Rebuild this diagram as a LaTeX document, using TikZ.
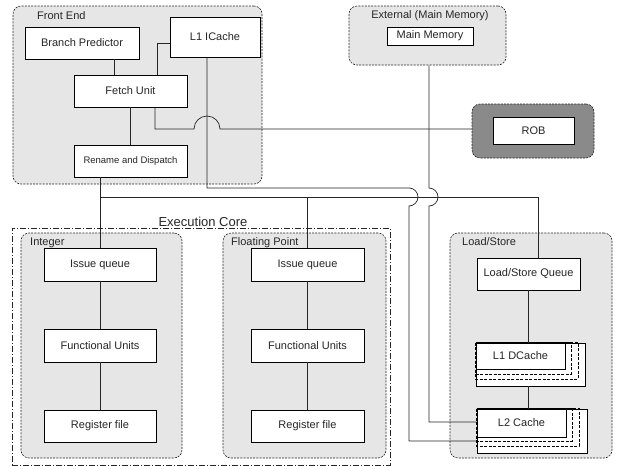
\documentclass[tikz,border=0pt]{standalone}
\usepackage{fontspec}
\setmainfont{Liberation Sans}
\definecolor{lightgrey}{RGB}{230,230,230}
\definecolor{darkgrey}{RGB}{138,138,138}
\begin{document}
\begin{tikzpicture}[x=1pt,y=1pt,
  grp/.style={draw=black!85, dash pattern=on 2pt off 1.2pt, rounded corners=8pt, fill=lightgrey, line width=0.6pt, inner sep=0pt},
  core/.style={draw=black!85, dash pattern=on 6pt off 2pt on 1pt off 2pt, line width=0.6pt, inner sep=0pt},
  box/.style={draw=black, fill=white, line width=0.7pt, inner sep=0pt, font=\fontsize{11}{13}\selectfont, text=black!85},
  wire/.style={draw=black!85, line width=0.7pt},
  lbl/.style={font=\fontsize{11}{13}\selectfont, inner sep=0pt, text=black!85},
  stackdash/.style={draw=black, line width=0.6pt, dash pattern=on 3pt off 1.5pt}]
\useasboundingbox (0,0) rectangle (619,-466);

% groups
\node[grp, minimum width=249pt, minimum height=178pt] (frontend) at (137.5,-95) {};
\node[grp, minimum width=157pt, minimum height=59pt] (external) at (427.5,-35.5) {};
\node[grp, fill=darkgrey, minimum width=122pt, minimum height=54pt] (robgrp) at (533,-131) {};
\node[core, minimum width=378pt, minimum height=237pt] (core) at (201,-346.5) {};
\node[grp, minimum width=161pt, minimum height=225pt] (intgrp) at (101.5,-345.5) {};
\node[grp, minimum width=163pt, minimum height=225pt] (fpgrp) at (304.5,-345.5) {};
\node[grp, minimum width=162pt, minimum height=225pt] (lsgrp) at (531,-345.5) {};

% group labels
\node[lbl, anchor=west] (felbl) at (37,-16) {Front End};
\node[lbl] (extlbl) at (430,-16) {External (Main Memory)};
\node[lbl, anchor=base, font=\fontsize{13}{15}\selectfont] (corelbl) at (203,-226.5) {Execution Core};
\node[lbl, anchor=west] (intlbl) at (30,-243) {Integer};
\node[lbl, anchor=west] (fplbl) at (231,-243) {Floating Point};
\node[lbl, anchor=west] (lslbl) at (462,-242) {Load/Store};

% boxes
\node[box, minimum width=114pt, minimum height=32pt] (bp) at (82,-43) {Branch Predictor};
\node[box, minimum width=90pt, minimum height=40pt] (icache) at (215,-37) {L1 ICache};
\node[box, minimum width=113pt, minimum height=32pt] (fetch) at (130.5,-91) {Fetch Unit};
\node[box, minimum width=113pt, minimum height=32pt, font=\fontsize{9.5}{11}\selectfont] (rename) at (130.5,-161) {Rename and Dispatch};
\node[box, minimum width=86pt, minimum height=18pt] (mainmem) at (430,-36) {Main Memory};
\node[box, minimum width=81pt, minimum height=27pt] (rob) at (533.5,-130.5) {ROB};

\node[box, minimum width=112pt, minimum height=33pt] (intiq) at (100,-264.5) {Issue queue};
\node[box, minimum width=112pt, minimum height=33pt] (intfu) at (100,-345.5) {Functional Units};
\node[box, minimum width=112pt, minimum height=32pt] (intrf) at (100,-426) {Register file};

\node[box, minimum width=113pt, minimum height=33pt] (fpiq) at (307.5,-264.5) {Issue queue};
\node[box, minimum width=113pt, minimum height=33pt] (fpfu) at (307.5,-345.5) {Functional Units};
\node[box, minimum width=113pt, minimum height=32pt] (fprf) at (307.5,-426) {Register file};

\node[box, minimum width=103pt, minimum height=32pt] (lsq) at (528.5,-274) {Load/Store Queue};

\node[box, minimum width=109pt, minimum height=43pt] (l1dback) at (530.5,-364.5) {};
\draw[stackdash] (l1dback.north west) rectangle (578,-379);
\draw[stackdash] (l1dback.north west) rectangle (571,-374);
\node[box, minimum width=89pt, minimum height=26pt] (l1d) at (520.5,-356) {L1 DCache};

\node[box, minimum width=110pt, minimum height=44pt] (l2back) at (532,-431) {};
\draw[stackdash] (l2back.north west) rectangle (579,-446);
\draw[stackdash] (l2back.north west) rectangle (572,-441);
\node[box, minimum width=89pt, minimum height=28pt] (l2) at (521.5,-423) {L2 Cache};

% helper coordinates
\coordinate (xbp) at (114,0);
\coordinate (xfi) at (157,-43);
\coordinate (xrob) at (155,-129);
\coordinate (hop1) at (194,-129);
\coordinate (bus) at (100,-197);
\coordinate (busfp) at (307.5,-197);
\coordinate (busr) at (538,-197);
\coordinate (xic) at (207,-188);
\coordinate (xicd) at (409,-188);
\coordinate (xmm) at (429,-188);
\coordinate (yl2a) at (0,-422);
\coordinate (yl2b) at (0,-441);
\coordinate (xls) at (528,0);

% connectors
\draw[wire] (bp.south -| xbp) -- (fetch.north -| xbp);
\draw[wire] (fetch.north -| xfi) |- (icache.west |- xfi);
\draw[wire] (fetch.south) -- (rename.north);
\draw[wire] (fetch.south -| xrob) -- (xrob) -- (hop1)
  arc[start angle=180, end angle=0, radius=13pt] -- (robgrp.west |- xrob);
\draw[wire] (rename.south -| bus) -- (intiq.north -| bus);
\draw[wire] (bus) -- (busr) -- (lsq.north -| busr);
\draw[wire] (busfp) -- (fpiq.north);
\draw[wire] (icache.south -| xic) -- (xic) -- (xicd)
  arc[start angle=90, end angle=-90, radius=9pt] |- (l2back.west |- yl2b);
\draw[wire] (external.south -| xmm) -- (xmm)
  arc[start angle=90, end angle=-90, radius=9pt] |- (l2back.west |- yl2a);
\draw[wire] (intiq.south) -- (intfu.north);
\draw[wire] (intfu.south) -- (intrf.north);
\draw[wire] (fpiq.south) -- (fpfu.north);
\draw[wire] (fpfu.south) -- (fprf.north);
\draw[wire] (lsq.south -| xls) -- (l1dback.north -| xls);
\draw[wire] (l1dback.south -| xls) -- (l2back.north -| xls);
\end{tikzpicture}
\end{document}
